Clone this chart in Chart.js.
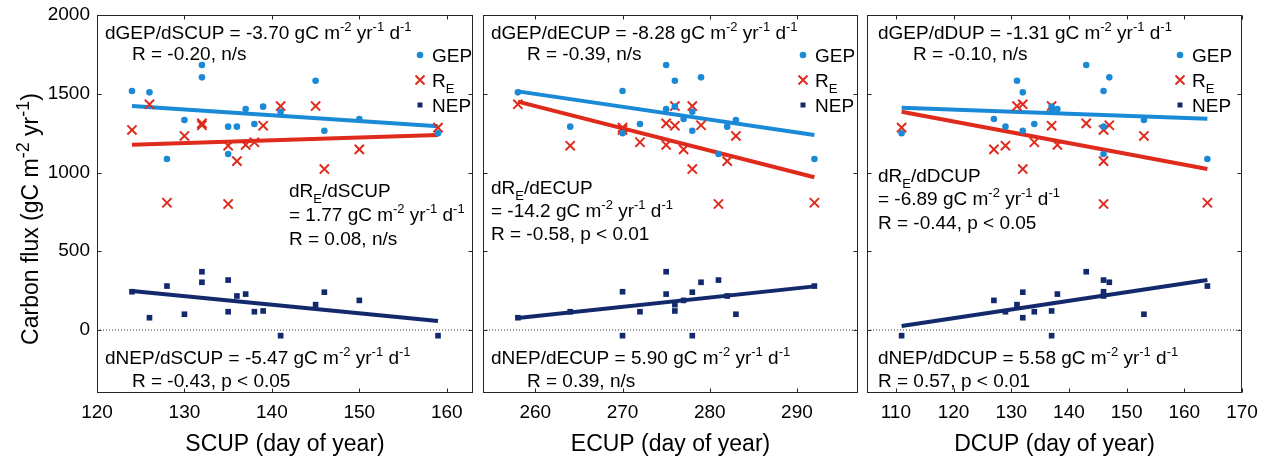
<!DOCTYPE html>
<html>
<head>
<meta charset="utf-8">
<script src="https://cdn.jsdelivr.net/npm/chart.js@4"></script>
<style>
html, body { margin: 0; padding: 0; background: #fff; }
#wrap { position: relative; width: 1268px; height: 458px; }
canvas { position: absolute; left: 0; top: 0; }
</style>
</head>
<body>
<div id="wrap">
  <canvas id="c1" width="1268" height="458"></canvas>
  <canvas id="c2" width="1268" height="458"></canvas>
  <canvas id="c3" width="1268" height="458"></canvas>
</div>
<script>
// ---- data (17 sites/years) ----
const scup = [124, 126, 132, 132, 130, 128, 135, 136, 135, 137, 138, 139, 141, 145, 146, 150, 159];
const ecup = [270, 258, 275, 279, 283, 292, 264, 282, 281, 275, 272, 276, 278, 276, 278, 277, 270];
const dcup = [146, 132, 143, 147, 153, 164, 129, 146, 146, 138, 134, 137, 137, 131, 132, 127, 111];
const gep  = [1517, 1509, 1683, 1604, 1333, 1086, 1291, 1291, 1117, 1403, 1308, 1418, 1386, 1583, 1265, 1340, 1249];
const re   = [1270, 1433, 1312, 1300, 1232, 808, 1170, 1072, 800, 1175, 1192, 1297, 1422, 1422, 1022, 1147, 1285];
const nep  = [243, 78, 370, 303, 100, 279, 116, 216, 317, 228, 116, 121, -36, 161, 240, 188, -36];

// regression line end points
const fitXS = [124, 159], fitGepS = [1422, 1293], fitReS = [1176, 1238], fitNepS = [248, 57];
const fitXE = [258, 292], fitGepE = [1515, 1238], fitReE = [1450, 970], fitNepE = [76, 277];
const fitXD = [111, 164], fitGepD = [1411, 1342], fitReD = [1386, 1022], fitNepD = [25, 318];

// axes
const yLim = [-400, 2000];
const yTicks = [0, 500, 1000, 1500, 2000];
const xLimS = [120, 163], xTicksS = [120, 130, 140, 150, 160];
const xLimE = [254, 297], xTicksE = [260, 270, 280, 290];
const xLimD = [105, 170], xTicksD = [110, 120, 130, 140, 150, 160, 170];

const FONT = '"Liberation Sans", Arial, Helvetica, sans-serif';
const BLUE = '#1b8ad6', RED = '#de2b1c', NAVY = '#12296c';

Chart.defaults.font.family = FONT;
Chart.defaults.color = '#000';

// ---- little rich-text helper for super/subscripts ----
function richParts(str) {
    const out = [];
    const rx = /([\^_])\{([^}]*)\}|([^\^_]+)/g;
    let m;
    while ((m = rx.exec(str))) {
        if (m[3]) out.push([m[3], 'n']);
        else out.push([m[2], m[1] === '^' ? 'sup' : 'sub']);
    }
    return out;
}
function richWidth(ctx, str, size, k2) {
    let w = 0;
    richParts(str).forEach(([t, k]) => {
        ctx.font = (k === 'n' ? size : Math.round(size * k2)) + 'px ' + FONT;
        w += ctx.measureText(t).width;
    });
    return w;
}
function drawRich(ctx, str, x, y, size, k2) {
    // y is the vertical centre of the normal text
    k2 = k2 || 0.7;
    const base = y + size * 0.36;
    let cx = x;
    ctx.textBaseline = 'alphabetic';
    ctx.textAlign = 'left';
    richParts(str).forEach(([t, k]) => {
        const s = k === 'n' ? size : Math.round(size * k2);
        ctx.font = s + 'px ' + FONT;
        const dy = k === 'sup' ? -size * 0.42 : k === 'sub' ? size * 0.3 : 0;
        ctx.fillText(t, cx, base + dy);
        cx += ctx.measureText(t).width;
    });
}

function pts(xs, ys) { return xs.map((v, i) => ({ x: v, y: ys[i] })); }

// ---- decoration: frame, inward ticks, notes, legend ----
function panelPlugin(p) {
    return {
        id: 'panelDecor',
        afterDraw(chart) {
            const { ctx, chartArea: a, scales: { x, y } } = chart;
            ctx.save();
            ctx.strokeStyle = '#262626';
            ctx.lineWidth = 1;
            const L = Math.round(a.left) + 0.5, R = Math.round(a.right) - 0.5;
            const T = Math.round(a.top) + 0.5, B = Math.round(a.bottom) - 0.5;
            ctx.strokeRect(L, T, R - L, B - T);
            ctx.beginPath();
            p.ticks.forEach(v => {
                const px = Math.round(x.getPixelForValue(v)) + 0.5;
                ctx.moveTo(px, B); ctx.lineTo(px, B - 4);
                ctx.moveTo(px, T); ctx.lineTo(px, T + 4);
            });
            yTicks.forEach(v => {
                const py = Math.round(y.getPixelForValue(v)) + 0.5;
                ctx.moveTo(L, py); ctx.lineTo(L + 4, py);
                ctx.moveTo(R, py); ctx.lineTo(R - 4, py);
            });
            ctx.stroke();

            ctx.fillStyle = '#000';
            p.notes.forEach(n => drawRich(ctx, n[0], n[1], n[2], 19));

            // legend
            const lx = p.legendX;
            ctx.fillStyle = BLUE;
            ctx.beginPath(); ctx.arc(lx, 55, 3.3, 0, Math.PI * 2); ctx.fill();
            ctx.strokeStyle = RED; ctx.lineWidth = 2;
            ctx.beginPath();
            ctx.moveTo(lx - 4.5, 75.5); ctx.lineTo(lx + 4.5, 84.5);
            ctx.moveTo(lx + 4.5, 75.5); ctx.lineTo(lx - 4.5, 84.5);
            ctx.stroke();
            ctx.fillStyle = NAVY;
            ctx.fillRect(lx - 2.5, 102.5, 5, 5);
            ctx.fillStyle = '#000';
            drawRich(ctx, 'GEP', lx + 12, 55, 19);
            drawRich(ctx, 'R_{E}', lx + 12, 80, 19);
            drawRich(ctx, 'NEP', lx + 12, 105, 19);

            if (p.yTitle) {
                ctx.save();
                ctx.translate(30, 219);
                ctx.rotate(-Math.PI / 2);
                const w = richWidth(ctx, p.yTitle, 23, 0.78);
                drawRich(ctx, p.yTitle, -w / 2, 0, 23, 0.78);
                ctx.restore();
            }
            ctx.restore();
        }
    };
}

function makePanel(id, p) {
    const datasets = [
        { data: pts(p.xs, gep), pointStyle: 'circle', pointRadius: 3.3, pointBorderWidth: 0,
          backgroundColor: BLUE, borderColor: BLUE },
        { data: pts(p.xs, re), pointStyle: 'crossRot', pointRadius: 6.5, pointBorderWidth: 2,
          backgroundColor: RED, borderColor: RED },
        { data: pts(p.xs, nep), pointStyle: 'rect', pointRadius: 4, pointBorderWidth: 0,
          backgroundColor: NAVY, borderColor: NAVY },
        { data: pts(p.fitX, p.fitGep), showLine: true, pointRadius: 0, borderWidth: 4, borderColor: BLUE },
        { data: pts(p.fitX, p.fitRe), showLine: true, pointRadius: 0, borderWidth: 4, borderColor: RED },
        { data: pts(p.fitX, p.fitNep), showLine: true, pointRadius: 0, borderWidth: 4, borderColor: NAVY },
        { data: pts(p.lim, [0, 0]), showLine: true, pointRadius: 0, borderWidth: 1,
          borderColor: '#333', borderDash: [1, 2] }
    ];
    return new Chart(document.getElementById(id), {
        type: 'scatter',
        data: { datasets },
        options: {
            responsive: false,
            devicePixelRatio: 1,
            animation: false,
            events: [],
            layout: { padding: { left: p.padLeft, right: p.padRight, top: 15, bottom: 0 } },
            plugins: { legend: { display: false }, tooltip: { enabled: false } },
            scales: {
                x: {
                    type: 'linear', min: p.lim[0], max: p.lim[1],
                    afterBuildTicks: s => { s.ticks = p.ticks.map(v => ({ value: v })); },
                    afterFit: s => { s.height = 65; s.paddingLeft = 0; s.paddingRight = 0; },
                    grid: { display: false, drawTicks: false },
                    border: { display: false },
                    ticks: { font: { size: 19 }, color: '#000', padding: 8, maxRotation: 0,
                             autoSkip: false, callback: v => String(v) },
                    title: { display: true, text: p.xTitle, font: { size: 23 }, color: '#000',
                             padding: { top: 0, bottom: 0 } }
                },
                y: {
                    type: 'linear', min: yLim[0], max: yLim[1], display: p.showY,
                    afterBuildTicks: s => { s.ticks = yTicks.map(v => ({ value: v })); },
                    afterFit: s => { s.width = p.showY ? 97 : 0; s.paddingTop = 0; s.paddingBottom = 0; },
                    grid: { display: false, drawTicks: false },
                    border: { display: false },
                    ticks: { font: { size: 19 }, color: '#000', padding: 7, callback: v => String(v) }
                }
            }
        },
        plugins: [panelPlugin(p)]
    });
}

makePanel('c1', {
    xs: scup, lim: xLimS, ticks: xTicksS, fitX: fitXS, fitGep: fitGepS, fitRe: fitReS, fitNep: fitNepS,
    xTitle: 'SCUP (day of year)', showY: true, padLeft: 0, padRight: 1268 - 473, legendX: 420,
    yTitle: 'Carbon flux (gC m^{-2} yr^{-1})',
    notes: [
        ['dGEP/dSCUP = -3.70 gC m^{-2} yr^{-1} d^{-1}', 105, 32],
        ['R = -0.20, n/s', 132, 53],
        ['dR_{E}/dSCUP', 289, 190],
        ['= 1.77 gC m^{-2} yr^{-1} d^{-1}', 289, 214],
        ['R = 0.08, n/s', 289, 238],
        ['dNEP/dSCUP = -5.47 gC m^{-2} yr^{-1} d^{-1}', 105, 357],
        ['R = -0.43, p < 0.05', 132, 380]
    ]
});

makePanel('c2', {
    xs: ecup, lim: xLimE, ticks: xTicksE, fitX: fitXE, fitGep: fitGepE, fitRe: fitReE, fitNep: fitNepE,
    xTitle: 'ECUP (day of year)', showY: false, padLeft: 483, padRight: 1268 - 858, legendX: 803,
    notes: [
        ['dGEP/dECUP = -8.28 gC m^{-2} yr^{-1} d^{-1}', 491, 32],
        ['R = -0.39, n/s', 527, 53],
        ['dR_{E}/dECUP', 491, 187],
        ['= -14.2 gC m^{-2} yr^{-1} d^{-1}', 491, 210],
        ['R = -0.58, p < 0.01', 491, 233],
        ['dNEP/dECUP = 5.90 gC m^{-2} yr^{-1} d^{-1}', 491, 357],
        ['R = 0.39, n/s', 527, 380]
    ]
});

makePanel('c3', {
    xs: dcup, lim: xLimD, ticks: xTicksD, fitX: fitXD, fitGep: fitGepD, fitRe: fitReD, fitNep: fitNepD,
    xTitle: 'DCUP (day of year)', showY: false, padLeft: 867, padRight: 1268 - 1242, legendX: 1180,
    notes: [
        ['dGEP/dDUP = -1.31 gC m^{-2} yr^{-1} d^{-1}', 878, 32],
        ['R = -0.10, n/s', 913, 53],
        ['dR_{E}/dDCUP', 878, 175],
        ['= -6.89 gC m^{-2} yr^{-1} d^{-1}', 878, 198],
        ['R = -0.44, p < 0.05', 878, 222],
        ['dNEP/dDCUP = 5.58 gC m^{-2} yr^{-1} d^{-1}', 878, 357],
        ['R = 0.57, p < 0.01', 878, 380]
    ]
});
</script>
</body>
</html>
